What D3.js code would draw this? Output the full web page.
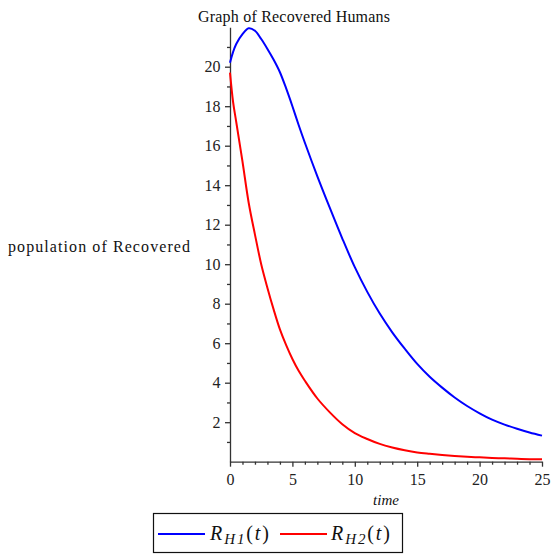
<!DOCTYPE html>
<html><head><meta charset="utf-8">
<script src="https://cdn.jsdelivr.net/npm/d3@7"></script>
<style>body{margin:0;background:#fff}svg{display:block}</style>
</head><body>
<script>
const tValues = [0,0.25,0.5,1,1.5,2,2.5,3,3.5,4,4.5,5,5.5,6,7,8,9,10,11,12,13,14,15,16,17,18,19,20,21,22,23,24,25];
const rh1 = [20.2,20.75,21.15,21.65,21.95,21.82,21.4,20.9,20.35,19.72,18.9,18.0,17.05,16.15,14.45,12.85,11.3,9.85,8.6,7.5,6.55,5.72,4.95,4.3,3.75,3.25,2.82,2.45,2.13,1.88,1.67,1.48,1.32];
const rh2 = [19.7,18.2,17.2,15.2,13.1,11.5,10.0,8.8,7.7,6.7,5.9,5.2,4.6,4.1,3.2,2.5,1.9,1.45,1.15,0.9,0.72,0.58,0.47,0.40,0.34,0.29,0.25,0.22,0.19,0.17,0.15,0.13,0.12];
const xTicks = [0,5,10,15,20,25];
const yTicks = [2,4,6,8,10,12,14,16,18,20];
const seriesNames = [["R","H1"],["R","H2"]];
const seriesColors = ["#0000ff","#ff0000"];

const FONT = "'Liberation Serif', 'Times New Roman', Times, serif";
const W=553,H=554;
const svg=d3.select("body").append("svg").attr("width",W).attr("height",H);
const x=d3.scaleLinear().domain([0,25]).range([230,542]);
const y=d3.scaleLinear().domain([0,22]).range([461.7,27.2]);

// axes
const ax=svg.append("g").attr("transform",`translate(0,${y(0)})`)
  .call(d3.axisBottom(x).tickValues(xTicks).tickSize(5).tickSizeOuter(0).tickFormat(d3.format("d")));
ax.selectAll("text").attr("dy","0.95em");
const axm=svg.append("g").attr("transform",`translate(0,${y(0)})`)
  .call(d3.axisBottom(x).tickValues(d3.range(0,26,1).filter(d=>d%5)).tickSize(3).tickFormat(""));
axm.select(".domain").remove();
const ay=svg.append("g").attr("transform",`translate(${x(0)},0)`)
  .call(d3.axisLeft(y).tickValues(yTicks).tickSize(5).tickSizeOuter(0).tickFormat(d3.format("d")));
ay.selectAll("text").attr("dx","-0.1em");
const aym=svg.append("g").attr("transform",`translate(${x(0)},0)`)
  .call(d3.axisLeft(y).tickValues(d3.range(1,22,2)).tickSize(3).tickFormat(""));
aym.select(".domain").remove();
svg.selectAll("g").attr("font-family",null).attr("font-size",null);
svg.selectAll(".domain,.tick line").attr("stroke","#333").attr("stroke-width",1.3);
svg.selectAll(".tick text").attr("fill","#222").style("font-family",FONT).style("font-size","16px");

// lines
const line=d3.line().x((d,i)=>x(tValues[i])).y(d=>y(d)).curve(d3.curveCatmullRom.alpha(0.5));
[rh1,rh2].forEach((s,i)=>{
  svg.append("path").datum(s).attr("d",line).attr("fill","none")
    .attr("stroke",seriesColors[i]).attr("stroke-width",2);
});

// title & labels
function txt(){ return svg.append("text").style("font-family",FONT).attr("fill","#111"); }
txt().attr("x",294).attr("y",22).attr("text-anchor","middle")
  .style("font-size","16px").attr("textLength",192).attr("lengthAdjust","spacing").text("Graph of  Recovered Humans");
txt().attr("x",8).attr("y",252).style("font-size","16px")
  .attr("textLength",182).attr("lengthAdjust","spacing").text("population of Recovered");
txt().attr("x",386).attr("y",505).attr("text-anchor","middle")
  .style("font-size","15px").attr("font-style","italic").text("time");

// legend
svg.append("rect").attr("x",153.5).attr("y",513.5).attr("width",249).attr("height",39)
  .attr("fill","none").attr("stroke","#111").attr("stroke-width",1.2);
const legX=[[158,205,210],[280,327,331]];
seriesNames.forEach((n,i)=>{
  svg.append("line").attr("x1",legX[i][0]).attr("x2",legX[i][1]).attr("y1",534).attr("y2",534)
    .attr("stroke",seriesColors[i]).attr("stroke-width",2);
  const t=txt().attr("x",legX[i][2]).attr("y",540).style("font-size","20px")
    .attr("textLength",59).attr("lengthAdjust","spacing");
  t.append("tspan").attr("font-style","italic").text(n[0]);
  t.append("tspan").attr("font-style","italic").style("font-size","15px").attr("dy",4).text(n[1]);
  t.append("tspan").attr("dy",-4).text("(");
  t.append("tspan").attr("font-style","italic").text("t");
  t.append("tspan").text(")");
});
</script>
</body></html>
